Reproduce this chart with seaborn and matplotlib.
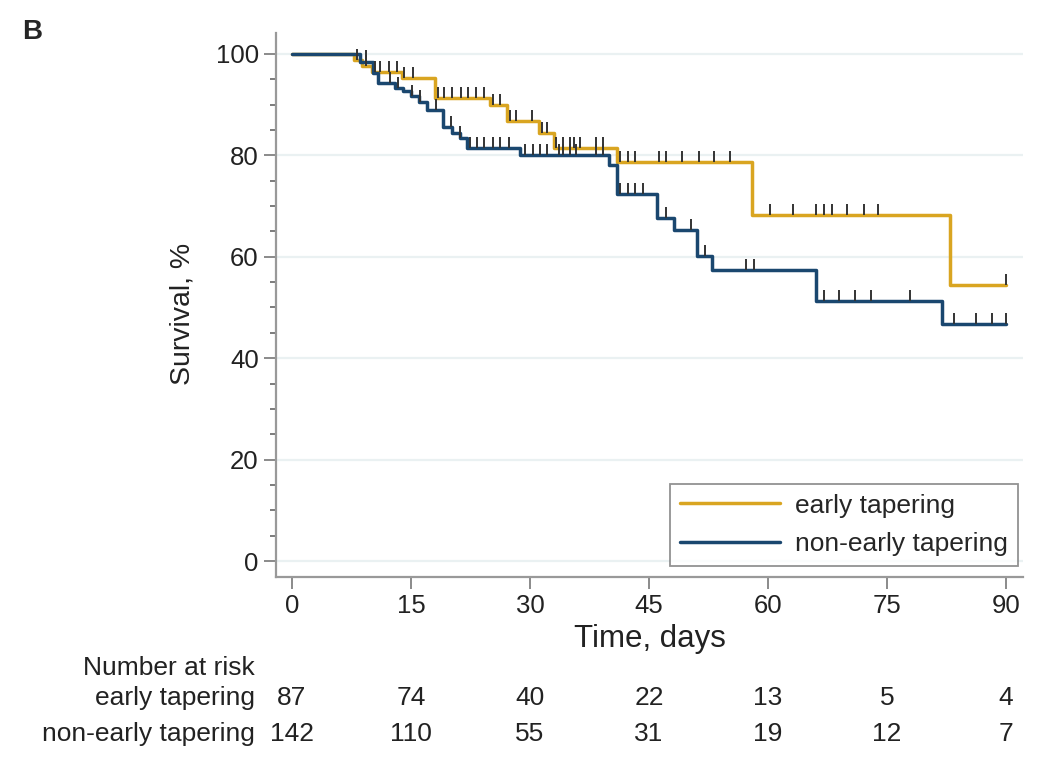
import numpy as np
import pandas as pd
import matplotlib
matplotlib.use("Agg")
import matplotlib.pyplot as plt
import seaborn as sns

# Kaplan-Meier steps
early_t = [0, 7.8, 8.8, 10.1, 13.9, 18.0, 25.0, 27.1, 31.1, 33.0, 41.0, 58.0, 83.0, 90]
early_s = [100, 98.8, 97.6, 96.4, 95.2, 91.3, 89.9, 86.7, 84.4, 81.4, 78.6, 68.2, 54.4, 54.4]

nonearly_t = [0, 8.6, 10.2, 10.8, 13.0, 14.0, 15.0, 16.0, 17.0, 19.0, 20.2, 21.2, 22.0,
              28.8, 40.0, 41.0, 46.0, 48.1, 51.0, 52.9, 66.0, 81.9, 90]
nonearly_s = [100, 98.5, 96.3, 94.2, 93.3, 92.6, 91.7, 90.6, 89.0, 85.6, 84.5, 83.5, 81.4,
              80.1, 78.1, 72.3, 67.6, 65.3, 60.2, 57.4, 51.3, 46.7, 46.7]

# censoring times
early_cens = [8.2, 9.3, 10.4, 11.1, 12.2, 13.2, 14.1, 15.2, 18.4, 19.1, 20.2, 21.3, 22.2,
              23.2, 24.2, 25.3, 26.2, 27.5, 28.2, 30.3, 31.5, 32.2, 33.3, 34.2, 35.0, 35.5,
              36.3, 38.3, 39.2, 41.3, 42.4, 43.2, 46.3, 47.2, 49.2, 51.3, 53.2, 55.2, 60.2,
              63.1, 66.0, 67.0, 68.1, 69.9, 72.1, 73.9, 90.0]
nonearly_cens = [9.3, 12.3, 13.3, 15.1, 16.1, 18.2, 20.1, 21.2, 22.4, 23.3, 24.2, 25.3, 26.2,
                 27.3, 29.4, 30.4, 31.3, 32.2, 33.6, 34.2, 35.0, 35.8, 38.3, 39.2, 41.3, 42.4,
                 43.2, 44.2, 47.2, 50.3, 52.1, 57.2, 58.2, 67.0, 69.0, 71.0, 73.0, 77.9, 83.4,
                 86.2, 88.2, 90.0]

groups = ["early tapering", "non-early tapering"]
risk_times = [0, 15, 30, 45, 60, 75, 90]
risk_early = [87, 74, 40, 22, 13, 5, 4]
risk_nonearly = [142, 110, 55, 31, 19, 12, 7]

colors = {"early tapering": "#D9A521", "non-early tapering": "#1A476F"}

df = pd.concat([
    pd.DataFrame({"time": early_t, "surv": early_s, "group": groups[0]}),
    pd.DataFrame({"time": nonearly_t, "surv": nonearly_s, "group": groups[1]}),
], ignore_index=True)

sns.set_theme(style="white")
plt.rcParams["font.family"] = ["Liberation Sans", "DejaVu Sans"]
txt = "#222222"

fig = plt.figure(figsize=(10.51, 7.70), dpi=100)
ax = fig.add_axes([0.2626, 0.2506, 0.7108, 0.7064])

for y in range(0, 101, 20):
    ax.axhline(y, color="#EAF1F2", lw=1.6, zorder=0)

sns.lineplot(data=df, x="time", y="surv", hue="group", palette=colors,
             estimator=None, sort=False, drawstyle="steps-post", lw=2.5, ax=ax, zorder=3)


def step_value(times, surv, t):
    idx = np.searchsorted(times, t, side="right") - 1
    return np.asarray(surv)[idx]


for times, surv, cens in [(early_t, early_s, early_cens), (nonearly_t, nonearly_s, nonearly_cens)]:
    yv = step_value(np.array(times), surv, np.array(cens))
    ax.vlines(cens, yv, yv + 2.2, color="#333333", lw=1.4, zorder=4)

ax.set_xlim(-2.02, 92.15)
ax.set_ylim(-3.16, 104.1)
ax.set_xticks(risk_times)
ax.set_yticks(range(0, 101, 20))
ax.set_yticks(range(0, 101, 5), minor=True)
ax.tick_params(axis="both", which="major", length=8.5, width=1.2, color="#777777",
               labelsize=18.5, labelcolor=txt, direction="out")
ax.tick_params(axis="y", which="minor", length=4.5, width=1.2, color="#666666", left=True)
ax.tick_params(axis="x", pad=4)
ax.tick_params(axis="y", pad=4)
ax.tick_params(left=True, bottom=True)

for side in ["top", "right"]:
    ax.spines[side].set_visible(False)
for side in ["left", "bottom"]:
    ax.spines[side].set_color("#999999")
    ax.spines[side].set_linewidth(1.6)

ax.set_xlabel("Time, days", fontsize=22.5, color=txt, labelpad=4)
ax.set_ylabel("Survival, %", fontsize=20.5, color=txt)
ax.yaxis.set_label_coords(-0.108, 0.483)

leg = ax.legend(loc="lower right", bbox_to_anchor=(0.993, 0.02), frameon=True, fancybox=False,
                fontsize=19, handlelength=3.8, handletextpad=0.55, labelspacing=0.55,
                borderpad=0.38, borderaxespad=0, title=None)
leg.get_frame().set_edgecolor("#777777")
leg.get_frame().set_linewidth(1.3)
for h in leg.get_lines():
    h.set_linewidth(2.5)

# number at risk table
trans = ax.get_xaxis_transform()
fs_tab = 19
fig.text(0.2426, 1 - 668 / 770, "Number at risk", ha="right", va="center", fontsize=fs_tab, color=txt)
for row_y, label, counts in [(698, groups[0], risk_early), (734, groups[1], risk_nonearly)]:
    fig.text(0.2426, 1 - row_y / 770, label, ha="right", va="center", fontsize=fs_tab, color=txt)
    yfrac = (577 - row_y) / 544
    for t, n in zip(risk_times, counts):
        ax.text(t, yfrac, str(n), transform=trans, ha="center", va="center", fontsize=fs_tab,
                color=txt, clip_on=False)

fig.text(0.021, 0.958, "B", fontsize=20, fontweight="bold", ha="left", va="center")

fig.savefig("out.png", dpi=100)
